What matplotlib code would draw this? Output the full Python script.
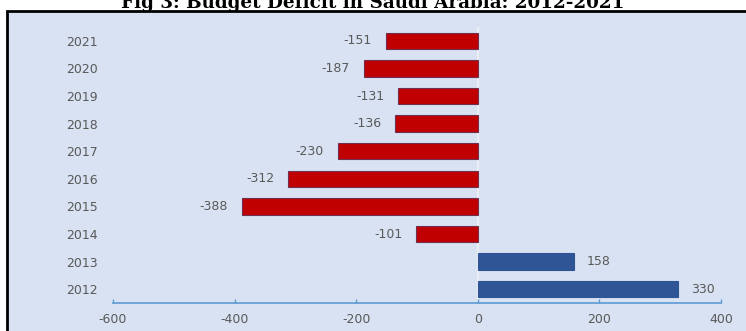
import matplotlib
matplotlib.use("Agg")
import matplotlib.pyplot as plt
from matplotlib.patches import Rectangle

plt.rcParams["axes.unicode_minus"] = False

years = ["2012", "2013", "2014", "2015", "2016", "2017", "2018", "2019", "2020", "2021"]
balance = [330, 158, -101, -388, -312, -230, -136, -131, -187, -151]
xticks = [-600, -400, -200, 0, 200, 400]
title = "Fig 3: Budget Deficit in Saudi Arabia: 2012-2021"

W, H = 746, 331
fig = plt.figure(figsize=(W / 100, H / 100), dpi=100, facecolor="white")

# background panel with black frame
bg = Rectangle((7 / W, -0.2), 1.3, 1.2 - 11 / H, transform=fig.transFigure,
               facecolor="#D9E2F2", edgecolor="black", linewidth=2, zorder=-10)
fig.patches.append(bg)

fig.text(0.5, 1 - 8 / H, title, ha="center", va="baseline",
         fontsize=13.2, fontweight="bold", family="DejaVu Serif", color="black")

ax = fig.add_axes([113 / W, 1 - 303 / H, (721 - 113) / W, (303 - 27) / H])
ax.set_facecolor("none")
ax.set_zorder(5)

pos = list(range(len(years)))
colors = ["#C00000" if v < 0 else "#2F5597" for v in balance]
edges = ["#70304F" if v < 0 else "#2F5597" for v in balance]
ax.axvline(0, color="#E9EEF6", lw=1.6, zorder=1)
ax.barh(pos, balance, height=0.6, color=colors, edgecolor=edges, linewidth=0.8, zorder=2)

for p, v in zip(pos, balance):
    if v < 0:
        ax.annotate(f"{v}", (v, p), xytext=(-10, 0), textcoords="offset points",
                    ha="right", va="center", fontsize=9, color="#595959")
    else:
        ax.annotate(f"{v}", (v, p), xytext=(9, 0), textcoords="offset points",
                    ha="left", va="center", fontsize=9, color="#595959")

ax.set_xlim(-600, 400)
ax.set_ylim(-0.5, len(years) - 0.5)
ax.set_yticks(pos)
ax.set_yticklabels(years)
ax.set_xticks(xticks)
ax.set_xticklabels([str(t) for t in xticks])

for s in ["top", "right", "left"]:
    ax.spines[s].set_visible(False)
ax.spines["bottom"].set_color("#5B9BD5")
ax.spines["bottom"].set_linewidth(1.2)
ax.tick_params(axis="y", length=0, pad=11, labelsize=9, labelcolor="#595959")
ax.tick_params(axis="x", direction="in", length=3, width=1, color="#5B9BD5",
               pad=7, labelsize=9, labelcolor="#595959")

fig.savefig("out.png", dpi=100, facecolor="white")
